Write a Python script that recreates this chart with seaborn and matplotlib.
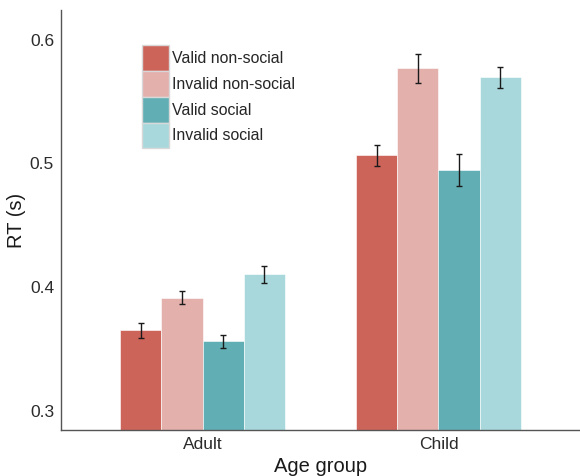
import matplotlib
matplotlib.use("Agg")
import matplotlib.pyplot as plt
import seaborn as sns
import pandas as pd
import numpy as np

# Mean reaction times (s) and standard errors per age group and cue condition
age_groups = ["Adult", "Child"]
conditions = ["Valid non-social", "Invalid non-social", "Valid social", "Invalid social"]
rt_adult = [0.3653, 0.3917, 0.3562, 0.4105]
rt_child = [0.5065, 0.5769, 0.4946, 0.5696]
se_adult = [0.0060, 0.0055, 0.0055, 0.0067]
se_child = [0.0085, 0.0118, 0.0127, 0.0087]
palette = ["#CD645A", "#E3B0AC", "#61AFB4", "#A8D8DC"]
y_ticks = [0.3, 0.4, 0.5, 0.6]

df = pd.DataFrame({
    "age": np.repeat(age_groups, len(conditions)),
    "cond": conditions * len(age_groups),
    "rt": rt_adult + rt_child,
    "se": se_adult + se_child,
})

sns.set_theme(style="white")
plt.rcParams["font.family"] = ["Liberation Sans", "DejaVu Sans"]

fig = plt.figure(figsize=(5.8, 4.76), dpi=100)
ax = fig.add_axes([61 / 580, 46 / 476, 519 / 580, 420 / 476])

sns.barplot(data=df, x="age", y="rt", hue="cond", hue_order=conditions,
            order=age_groups, palette=palette, width=0.7, errorbar=None,
            saturation=1, edgecolor="white", linewidth=0.4, ax=ax, legend=True)

# Error bars at the centre of each bar
bars = [p for p in ax.patches if p.get_height() > 0 and p.get_width() > 0][: len(df)]
for bar in bars:
    cx = bar.get_x() + bar.get_width() / 2
    top = bar.get_y() + bar.get_height()
    row = df[np.isclose(df["rt"], top)].iloc[0]
    ax.errorbar(cx, row["rt"], yerr=row["se"], color="#1a1a1a", lw=1.0,
                capsize=2.5, capthick=1.0, zorder=5)

ax.set_ylim(0.2847, 0.624)
ax.set_xlim(-0.6, 1.6)
ax.set_yticks(y_ticks)
ax.set_yticklabels([f"{t:.1f}" for t in y_ticks])
ax.tick_params(axis="both", labelsize=12.5, length=3, width=0.8,
               direction="out", pad=2, colors="#555555", labelcolor="#2b2b2b")
ax.set_ylabel("RT (s)", fontsize=14.5, color="#1a1a1a", labelpad=3)
ax.set_xlabel("Age group", fontsize=14.5, color="#1a1a1a", labelpad=4)

for side in ["top", "right"]:
    ax.spines[side].set_visible(False)
for side in ["left", "bottom"]:
    ax.spines[side].set_color("#555555")
    ax.spines[side].set_linewidth(1.0)

handles, labels = ax.get_legend_handles_labels()
for h in handles:
    h.set_edgecolor("#d8d8d8")
    h.set_linewidth(1.0)
ax.legend(handles, labels, loc="upper left",
          bbox_to_anchor=(141.7 / 580, 1 - 45 / 476),
          bbox_transform=fig.transFigure, frameon=False, fontsize=11.4,
          handlelength=1.75, handleheight=2.135, labelspacing=0.0,
          handletextpad=0.15, borderpad=0, borderaxespad=0)

fig.savefig("out.png", dpi=100)
